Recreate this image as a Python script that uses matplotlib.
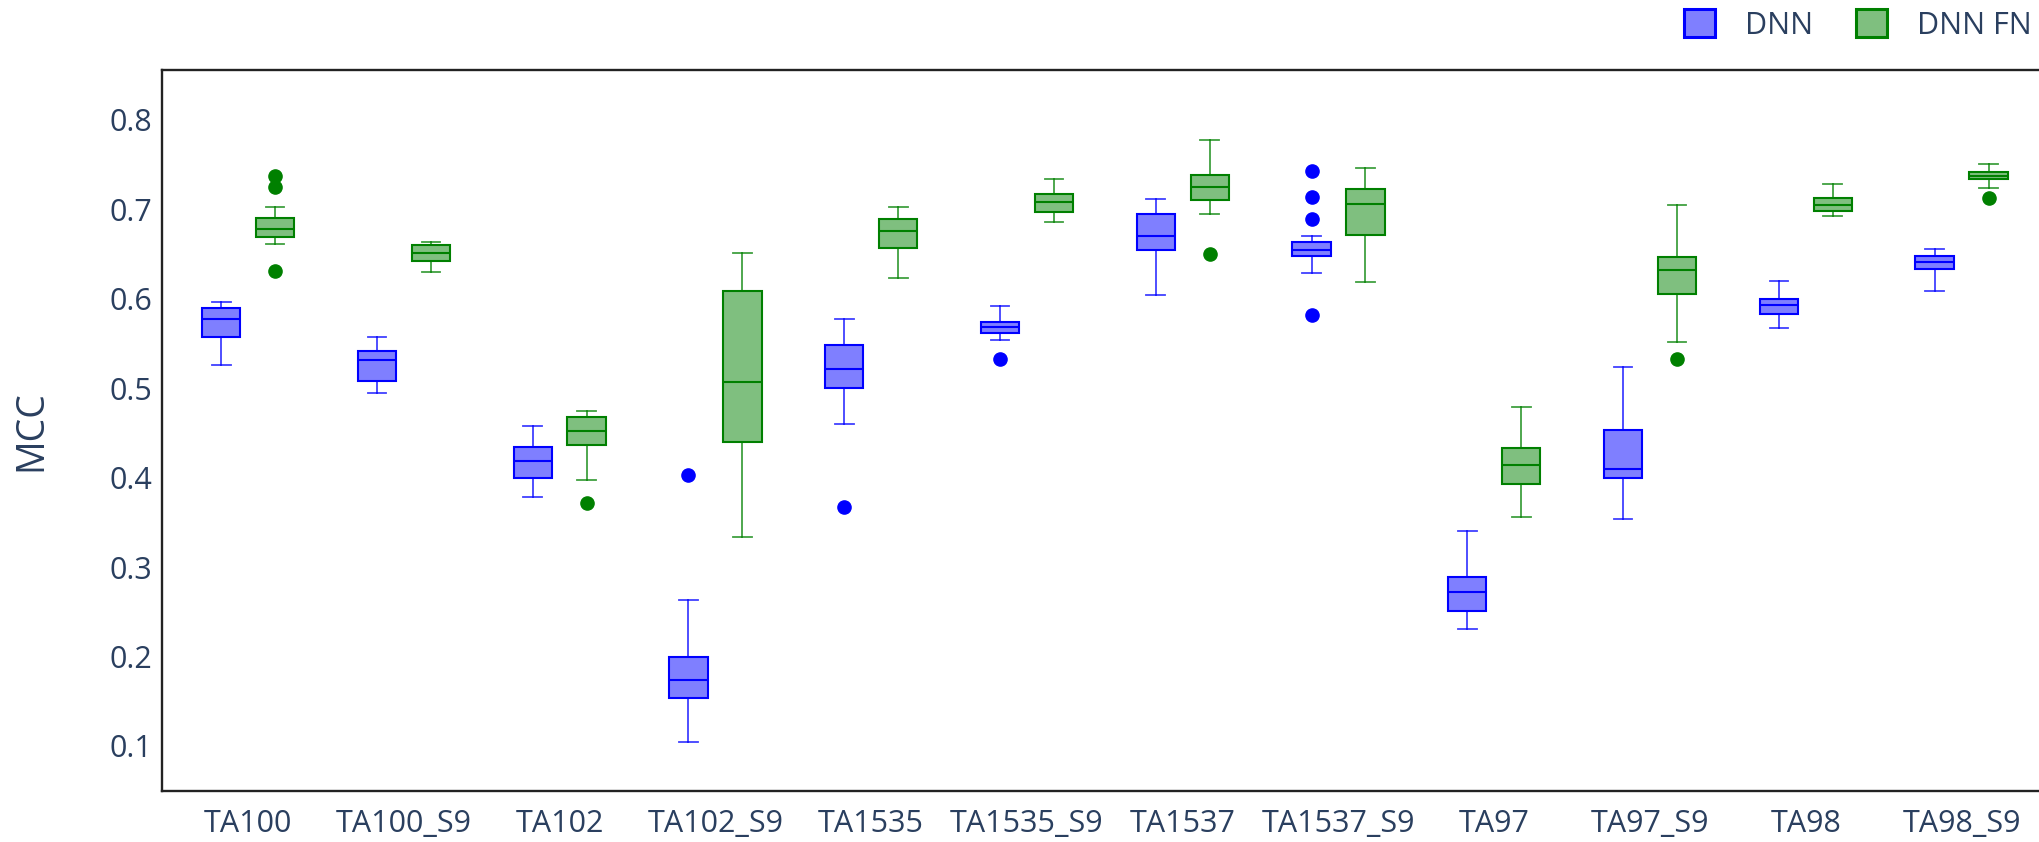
import numpy as np
import matplotlib.pyplot as plt
from matplotlib.patches import Patch

plt.rcParams['font.family'] = ['Open Sans', 'DejaVu Sans']

categories = ['TA100', 'TA100_S9', 'TA102', 'TA102_S9', 'TA1535', 'TA1535_S9',
              'TA1537', 'TA1537_S9', 'TA97', 'TA97_S9', 'TA98', 'TA98_S9']

# DNN box summaries
dnn_lo = [0.526, 0.494, 0.378, 0.104, 0.460, 0.554, 0.604, 0.629, 0.231, 0.354, 0.567, 0.609]
dnn_q1 = [0.557, 0.508, 0.400, 0.154, 0.500, 0.562, 0.654, 0.648, 0.251, 0.400, 0.583, 0.633]
dnn_med = [0.577, 0.531, 0.418, 0.174, 0.521, 0.568, 0.670, 0.654, 0.272, 0.410, 0.593, 0.641]
dnn_q3 = [0.590, 0.541, 0.434, 0.199, 0.548, 0.574, 0.695, 0.663, 0.289, 0.453, 0.600, 0.648]
dnn_hi = [0.596, 0.557, 0.458, 0.263, 0.577, 0.592, 0.711, 0.670, 0.340, 0.523, 0.620, 0.655]
dnn_out = [[], [], [], [0.403], [0.367], [0.533], [], [0.743, 0.713, 0.689, 0.582],
           [], [], [], []]

# DNN FN box summaries
fn_lo = [0.661, 0.630, 0.397, 0.334, 0.623, 0.686, 0.695, 0.619, 0.356, 0.551, 0.692, 0.724]
fn_q1 = [0.669, 0.642, 0.436, 0.440, 0.657, 0.697, 0.710, 0.671, 0.393, 0.605, 0.698, 0.734]
fn_med = [0.678, 0.651, 0.452, 0.507, 0.675, 0.708, 0.725, 0.706, 0.414, 0.632, 0.705, 0.737]
fn_q3 = [0.690, 0.660, 0.468, 0.608, 0.689, 0.717, 0.738, 0.722, 0.433, 0.646, 0.712, 0.741]
fn_hi = [0.702, 0.663, 0.474, 0.651, 0.702, 0.734, 0.777, 0.746, 0.479, 0.705, 0.728, 0.750]
fn_out = [[0.737, 0.725, 0.631], [], [0.372], [], [], [], [0.650], [], [], [0.532], [], [0.712]]

TEXT = '#2a3f5f'


def make_stats(lo, q1, med, q3, hi, out):
    return [dict(whislo=a, q1=b, med=c, q3=d, whishi=e, fliers=f)
            for a, b, c, d, e, f in zip(lo, q1, med, q3, hi, out)]


def draw(ax, stats, pos, line, fill):
    ax.bxp(stats, positions=pos, widths=0.246, capwidths=0.12, patch_artist=True,
           boxprops=dict(facecolor=fill, edgecolor=line, linewidth=1.5),
           whiskerprops=dict(color=line, linewidth=1.3, alpha=0.75),
           capprops=dict(color=line, linewidth=1.3, alpha=0.75),
           medianprops=dict(color=line, linewidth=1.5),
           flierprops=dict(marker='o', markerfacecolor=line, markeredgecolor=line,
                           markersize=9.5),
           manage_ticks=False)


fig = plt.figure(figsize=(20.39, 8.42), dpi=100)
ax_w = 1 - 162 / 2039
ax = fig.add_axes([162 / 2039, 1 - 790.7 / 842, ax_w, (790.7 - 70.4) / 842])

x = np.arange(len(categories))
draw(ax, make_stats(dnn_lo, dnn_q1, dnn_med, dnn_q3, dnn_hi, dnn_out),
     x - 0.173, 'blue', (0, 0, 1, 0.5))
draw(ax, make_stats(fn_lo, fn_q1, fn_med, fn_q3, fn_hi, fn_out),
     x + 0.173, 'green', (0, 0.5, 0, 0.5))

ax.set_xlim(-0.553, 11.497)
ax.set_ylim(0.05, 0.855)
ax.set_xticks(x)
ax.set_xticklabels(categories)
ax.set_yticks([0.1, 0.2, 0.3, 0.4, 0.5, 0.6, 0.7, 0.8])
ax.tick_params(axis='both', length=0, labelsize=22, colors=TEXT)
ax.tick_params(axis='y', pad=7)
ax.tick_params(axis='x', pad=13)
ax.set_ylabel('MCC', fontsize=27, color=TEXT, va='center')
ax.yaxis.set_label_coords((31.7 - 162) / (ax_w * 2039), 0.5)

for side in ['left', 'top', 'bottom']:
    ax.spines[side].set_color('#222222')
    ax.spines[side].set_linewidth(1.7)
ax.spines['right'].set_visible(False)

handles = [Patch(facecolor=(0, 0, 1, 0.5), edgecolor='blue', linewidth=2.2, label='DNN'),
           Patch(facecolor=(0, 0.5, 0, 0.5), edgecolor='green', linewidth=2.2, label='DNN FN')]
leg = fig.legend(handles=handles, loc='center right', bbox_to_anchor=(2032 / 2039, 1 - 25 / 842),
                 ncol=2, frameon=False, fontsize=22, handlelength=1.0, handleheight=1.0,
                 handletextpad=1.0, columnspacing=1.4, borderpad=0, borderaxespad=0)
for t in leg.get_texts():
    t.set_color(TEXT)

fig.savefig('out.png', dpi=100)
